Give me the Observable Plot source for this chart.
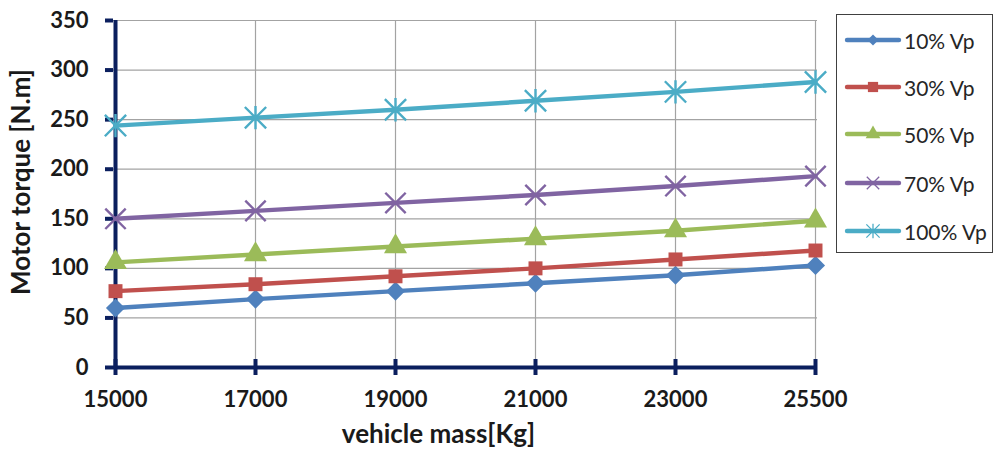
<!DOCTYPE html>
<html><head><meta charset="utf-8">
<script src="https://cdn.jsdelivr.net/npm/d3@7"></script>
<script src="https://cdn.jsdelivr.net/npm/@observablehq/plot@0.6"></script>
<style>
body{margin:0;background:#fff;}
#wrap{position:relative;width:995px;height:462px;font-family:Lato,"Liberation Sans",sans-serif;}
#legend{position:absolute;left:836px;top:14px;width:157px;height:239px;border:1px solid #404040;background:#fff;box-sizing:border-box;}
.item{position:absolute;left:8px;height:30px;display:flex;align-items:center;font-size:21px;color:#262626;white-space:nowrap;}
.item svg{margin-right:3px;overflow:visible;}
</style></head><body><div id="wrap"></div>
<script>
// ---- data ----
const masses = ["15000","17000","19000","21000","23000","25500"];
const seriesNames = ["10% Vp","30% Vp","50% Vp","70% Vp","100% Vp"];
const v10  = [60, 69, 77, 85, 93, 103];
const v30  = [77, 84, 92, 100, 109, 118];
const v50  = [106, 114, 122, 130, 138, 148];
const v70  = [150, 158, 166, 174, 183, 193];
const v100 = [244, 252, 260, 269, 278, 288];
const yTicks = [0, 50, 100, 150, 200, 250, 300, 350];
const xTitle = "vehicle mass[Kg]";
const yTitle = "Motor torque [N.m]";

// ---- styles ----
const colors = ["#4F81BD","#C0504D","#9BBB59","#8064A2","#4BACC6"];
const navy = "#0B1F5E";
const timesSym = {draw(ctx, size){const r=Math.sqrt(size)/2; ctx.moveTo(-r,-r);ctx.lineTo(r,r);ctx.moveTo(-r,r);ctx.lineTo(r,-r);}};
const asterSym = {draw(ctx, size){const r=Math.sqrt(size)/2; ctx.moveTo(-r,-r);ctx.lineTo(r,r);ctx.moveTo(-r,r);ctx.lineTo(r,-r);ctx.moveTo(0,-r*1.1);ctx.lineTo(0,r*1.1);}};
const markers = [
  {symbol:"diamond2", r:8.6, filled:true, lr:5},
  {symbol:"square2", r:8.9, filled:true, lr:6.5},
  {symbol:"triangle2", r:11, filled:true, lr:7},
  {symbol:timesSym, r:11.5, filled:false, lr:7, sw:2.4},
  {symbol:asterSym, r:12, filled:false, lr:7.5, sw:2.4}
];

const allValues = [v10, v30, v50, v70, v100];
const data = seriesNames.flatMap((s, i) => masses.map((m, j) => ({mass: m, torque: allValues[i][j], series: s})));

const dotMarks = seriesNames.map((s, i) => {
  const mk = markers[i];
  return Plot.dot(data.filter(d => d.series === s), {
    x: "mass", y: "torque", symbol: mk.symbol, r: mk.r,
    fill: mk.filled ? colors[i] : "none",
    stroke: mk.filled ? "none" : colors[i],
    strokeWidth: mk.sw || 1
  });
});

const chart = Plot.plot({
  width: 995, height: 462,
  marginLeft: 113, marginRight: 178, marginTop: 20, marginBottom: 95,
  style: {fontFamily: "Lato, 'Liberation Sans', sans-serif", background: "#fff", overflow: "visible"},
  x: {type: "point", domain: masses, padding: 0},
  y: {domain: [0, 350]},
  color: {domain: seriesNames, range: colors},
  marks: [
    Plot.gridY(yTicks, {stroke: "#a3a3a3", strokeOpacity: 1, strokeWidth: 1.2}),
    Plot.gridX({stroke: "#a3a3a3", strokeOpacity: 1, strokeWidth: 1.2}),
    Plot.ruleY([0], {stroke: navy, strokeWidth: 4}),
    Plot.ruleX([masses[0]], {stroke: navy, strokeWidth: 4}),
    Plot.axisY(yTicks, {tickSize: 8, stroke: navy, strokeWidth: 4, fill: "none", label: null}),
    Plot.axisY(yTicks, {tickSize: 0, tickPadding: 25, fill: "#1a1a1a", fontSize: 22, fontWeight: "bold", label: null}),
    Plot.axisX({tickSize: 16, dy: -8, stroke: navy, strokeWidth: 4, fill: "none", label: null}),
    Plot.axisX({tickSize: 0, tickPadding: 24, fill: "#1a1a1a", fontSize: 22, fontWeight: "bold", label: null}),
    Plot.line(data, {x: "mass", y: "torque", z: "series", stroke: "series", strokeWidth: 4.4, strokeLinejoin: "round", strokeLinecap: "round"}),
    ...dotMarks,
    Plot.text([xTitle], {frameAnchor: "bottom", textAnchor: "middle", dy: 75, dx: -27, fontSize: 26, fontWeight: "bold", fill: "#1a1a1a"}),
    Plot.text([yTitle], {frameAnchor: "left", textAnchor: "middle", rotate: -90, dx: -92, dy: -12, fontSize: 26, fontWeight: "bold", fill: "#1a1a1a"})
  ]
});
const wrap = document.getElementById("wrap");
wrap.appendChild(chart);

// ---- legend ----
const legend = document.createElement("div");
legend.id = "legend";
wrap.appendChild(legend);
const tops = [10, 57, 104, 153, 201];
seriesNames.forEach((s, i) => {
  const mk = markers[i];
  const item = document.createElement("div");
  item.className = "item";
  item.style.top = tops[i] + "px";
  const svg = d3.create("svg").attr("width", 56).attr("height", 24);
  svg.append("line").attr("x1", 2).attr("x2", 54).attr("y1", 12).attr("y2", 12)
    .attr("stroke", colors[i]).attr("stroke-width", 4.4).attr("stroke-linecap", "round");
  const symType = typeof mk.symbol === "string"
    ? {diamond2: d3.symbolDiamond2, square2: d3.symbolSquare2, triangle2: d3.symbolTriangle2}[mk.symbol]
    : mk.symbol;
  svg.append("path").attr("transform", "translate(28,12)")
    .attr("d", d3.symbol(symType, Math.PI * mk.lr * mk.lr)())
    .attr("fill", mk.filled ? colors[i] : "none")
    .attr("stroke", mk.filled ? "none" : colors[i])
    .attr("stroke-width", mk.filled ? 0 : 1.3);
  item.appendChild(svg.node());
  const span = document.createElement("span");
  span.textContent = s;
  item.appendChild(span);
  legend.appendChild(item);
});
</script></body></html>
